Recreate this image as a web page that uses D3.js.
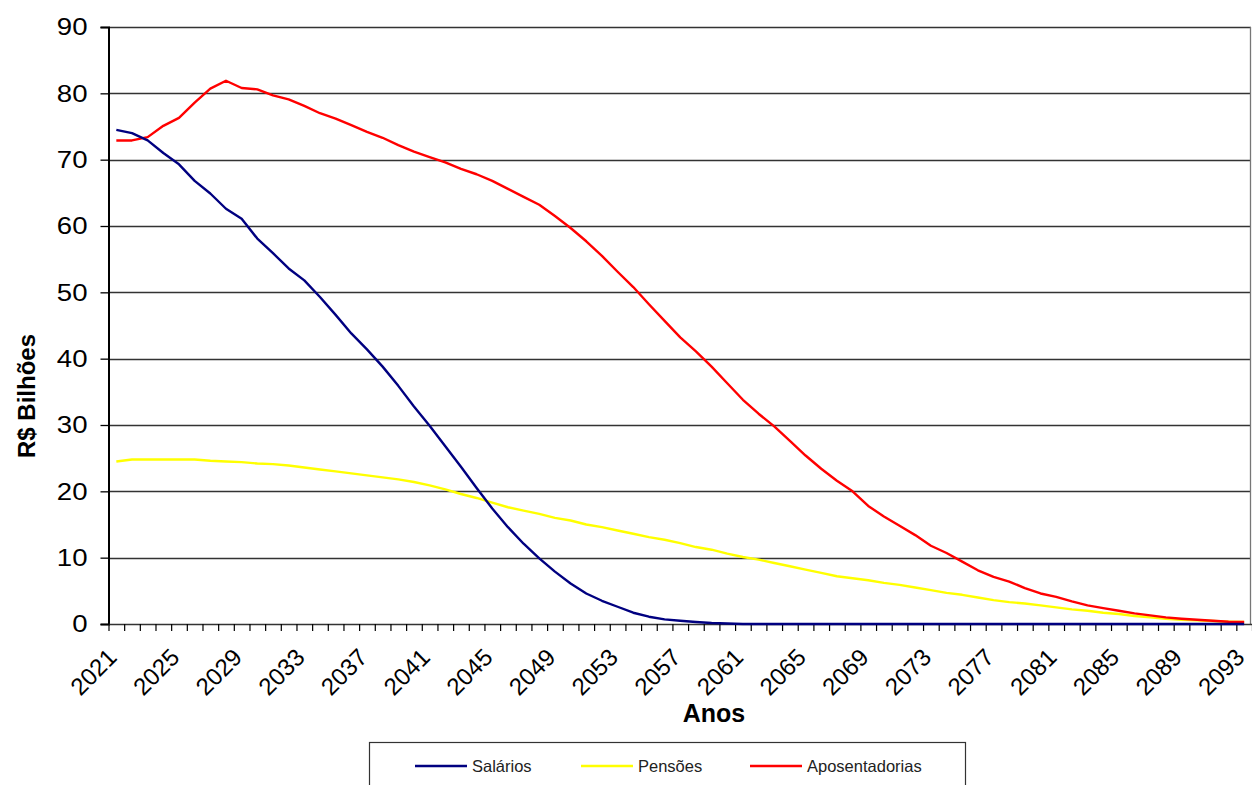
<!DOCTYPE html>
<html>
<head>
<meta charset="utf-8">
<script src="https://cdn.jsdelivr.net/npm/d3@7"></script>
<style>
  html, body { margin: 0; padding: 0; background: #fff; }
  svg { display: block; font-family: "Liberation Sans", Arial, sans-serif; }
</style>
</head>
<body>
<svg id="chart" width="1252" height="785"></svg>
<script>
// ---- data ----
const years = d3.range(2021, 2094);
const salarios = [74.5, 74.0, 72.9, 71.0, 69.3, 66.8, 64.9, 62.6, 61.1, 58.1,
  55.9, 53.6, 51.8, 49.3, 46.6, 43.8, 41.4, 38.8, 35.9, 32.8,
  29.9, 26.8, 23.7, 20.5, 17.4, 14.6, 12.1, 9.9, 7.9, 6.1,
  4.6, 3.5, 2.6, 1.7, 1.1, 0.7, 0.5, 0.3, 0.15, 0.08,
  0, 0, 0, 0, 0, 0, 0, 0, 0, 0,
  0, 0, 0, 0, 0, 0, 0, 0, 0, 0,
  0, 0, 0, 0, 0, 0, 0, 0, 0, 0,
  0, 0, 0];
const pensoes = [24.5, 24.8, 24.8, 24.8, 24.8, 24.8, 24.6, 24.5, 24.4, 24.2,
  24.1, 23.9, 23.6, 23.3, 23.0, 22.7, 22.4, 22.1, 21.8, 21.4,
  20.9, 20.3, 19.6, 19.0, 18.3, 17.6, 17.1, 16.6, 16.0, 15.6,
  15.0, 14.6, 14.1, 13.6, 13.1, 12.7, 12.2, 11.6, 11.2, 10.6,
  10.1, 9.7, 9.2, 8.7, 8.2, 7.7, 7.2, 6.9, 6.6, 6.2,
  5.9, 5.5, 5.1, 4.7, 4.4, 4.0, 3.6, 3.3, 3.1, 2.8,
  2.5, 2.2, 2.0, 1.7, 1.5, 1.2, 1.0, 0.8, 0.65, 0.55,
  0.45, 0.35, 0.3];
const aposentadorias = [72.9, 72.9, 73.4, 75.1, 76.3, 78.6, 80.7, 81.9, 80.8, 80.6,
  79.7, 79.1, 78.1, 77.0, 76.2, 75.2, 74.2, 73.3, 72.2, 71.2,
  70.4, 69.6, 68.6, 67.8, 66.8, 65.6, 64.4, 63.2, 61.5, 59.7,
  57.7, 55.5, 53.1, 50.8, 48.2, 45.7, 43.2, 41.1, 38.8, 36.3,
  33.8, 31.7, 29.8, 27.6, 25.4, 23.4, 21.6, 20.0, 17.8, 16.2,
  14.8, 13.4, 11.8, 10.7, 9.4, 8.1, 7.1, 6.4, 5.4, 4.6,
  4.1, 3.4, 2.8, 2.4, 2.0, 1.6, 1.3, 1.0, 0.8, 0.65,
  0.5, 0.35, 0.3];
const yTicks = [0, 10, 20, 30, 40, 50, 60, 70, 80, 90];
const xLabelYears = years.filter((yr, i) => i % 4 === 0);
const seriesNames = ["Salários", "Pensões", "Aposentadorias"];
const seriesColors = ["#000080", "#FFFF00", "#FF0000"];

// ---- layout ----
const svg = d3.select("#chart");
const plotLeft = 108.5, plotRight = 1252, plotTop = 27, plotBottom = 624;
const n = years.length;
const xIdx = d3.scaleLinear().domain([-0.5, n - 0.5]).range([plotLeft, plotRight]);
const y = d3.scaleLinear().domain([0, 90]).range([plotBottom, plotTop]);

// gridlines
svg.append("g")
  .selectAll("line").data(yTicks.filter(v => v > 0)).join("line")
  .attr("x1", plotLeft).attr("x2", plotRight - 1)
  .attr("y1", d => Math.round(y(d)) + 0.5).attr("y2", d => Math.round(y(d)) + 0.5)
  .attr("stroke", "#333").attr("stroke-width", 1.3);

// right border
svg.append("line")
  .attr("x1", plotRight - 1.5).attr("x2", plotRight - 1.5)
  .attr("y1", y(90)).attr("y2", y(0))
  .attr("stroke", "#777").attr("stroke-width", 1.3);

// y axis
const stretch = 1.15;
const yAxis = svg.append("g").attr("transform", `translate(${plotLeft},0)`)
  .call(d3.axisLeft(y).tickValues(yTicks).tickSize(8).tickPadding(12).tickFormat(d3.format("d")));
yAxis.select(".domain").attr("stroke", "#000").attr("stroke-width", 2);
yAxis.selectAll(".tick line").attr("stroke", "#000").attr("stroke-width", 1.3);
yAxis.selectAll(".tick text")
  .attr("font-size", 24).attr("fill", "#000")
  .attr("font-family", "Liberation Sans, Arial, sans-serif")
  .attr("x", -21 / stretch)
  .attr("transform", `scale(${stretch},1)`);

// x axis (ticks at category boundaries)
const xAxis = svg.append("g").attr("transform", `translate(0,${plotBottom})`)
  .call(d3.axisBottom(xIdx).tickValues(d3.range(-0.5, n, 1)).tickSize(7).tickSizeOuter(0).tickFormat(""));
xAxis.select(".domain").attr("stroke", "#333").attr("stroke-width", 1.5);
xAxis.selectAll(".tick line").attr("stroke", "#000").attr("stroke-width", 1.2);

// x labels
svg.append("g")
  .selectAll("text").data(xLabelYears).join("text")
  .attr("transform", d => `translate(${xIdx(years.indexOf(d)) - 10},${plotBottom + 23}) rotate(-45)`)
  .attr("text-anchor", "end")
  .attr("dy", "0.7em")
  .attr("font-size", 24)
  .attr("fill", "#000")
  .text(d => d);

// lines
const seriesData = [salarios, pensoes, aposentadorias];
const line = d3.line().x((d, i) => xIdx(i)).y(d => y(d));
[1, 2, 0].forEach(si => {
  svg.append("path")
    .datum(seriesData[si])
    .attr("fill", "none")
    .attr("stroke", seriesColors[si])
    .attr("stroke-width", 2.4)
    .attr("stroke-linejoin", "round")
    .attr("d", line);
});

// axis titles
svg.append("text")
  .attr("x", 714).attr("y", 722)
  .attr("text-anchor", "middle")
  .attr("font-size", 25).attr("font-weight", "bold")
  .text("Anos");
svg.append("text")
  .attr("transform", "translate(35,396) rotate(-90)")
  .attr("text-anchor", "middle")
  .attr("font-size", 24).attr("font-weight", "bold")
  .text("R$ Bilhões");

// legend
const lg = svg.append("g");
lg.append("rect")
  .attr("x", 369.5).attr("y", 742.5).attr("width", 596).attr("height", 60)
  .attr("fill", "#fff").attr("stroke", "#333").attr("stroke-width", 1.2);
const legendX = [415, 581, 750];
seriesNames.forEach((name, i) => {
  lg.append("line")
    .attr("x1", legendX[i]).attr("x2", legendX[i] + 52)
    .attr("y1", 766).attr("y2", 766)
    .attr("stroke", seriesColors[i]).attr("stroke-width", 2.4);
  lg.append("text")
    .attr("x", legendX[i] + 57).attr("y", 766)
    .attr("dy", "0.35em")
    .attr("font-size", 16.5).attr("fill", "#222")
    .text(name);
});
</script>
</body>
</html>
